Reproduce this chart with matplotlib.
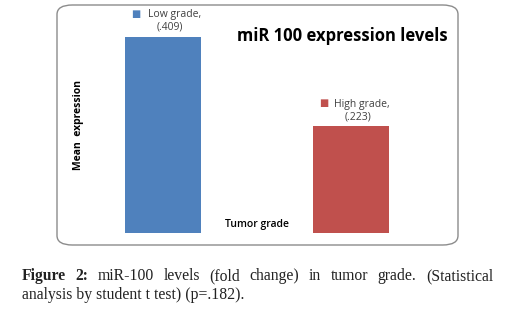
import matplotlib
matplotlib.use("Agg")
import matplotlib.pyplot as plt
from matplotlib.patches import FancyBboxPatch

# data
groups = ["Low grade,", "High grade,"]
values = [0.409, 0.223]
value_labels = ["(.409)", "(.223)"]
colors = ["#4f81bd", "#c0504d"]

W, H = 511, 315
fig = plt.figure(figsize=(W / 100, H / 100), dpi=100)
plt.rcParams['font.family'] = ['Open Sans', 'DejaVu Sans']

# rounded frame around the chart area
frame = FancyBboxPatch((57 / W, 1 - 245 / H), (458 - 57) / W, (245 - 5) / H,
                       boxstyle="round,pad=0,rounding_size=0.03",
                       transform=fig.transFigure, fc="white", ec="#8c8c8c", lw=1.0,
                       zorder=-1)
fig.patches.append(frame)

ax = fig.add_axes([57 / W, 1 - 233 / H, (458 - 57) / W, (233 - 5) / H])
ax.set_facecolor("none")
ax.set_ylim(0, 228 / 479)
ax.set_xlim(-0.564, 1.569)
x = [0, 1]
ax.bar(x, values, width=0.404, color=colors)
for s in ax.spines.values():
    s.set_visible(False)
ax.set_xticks([])
ax.set_yticks([])

for xi, v, g, vl, c in zip(x, values, groups, value_labels, colors):
    ax.annotate(vl, (xi, v), xytext=(5, 3), textcoords="offset points",
                ha="center", va="bottom", fontsize=7.5, color="#404040")
    ax.annotate(g, (xi, v), xytext=(8, 12), textcoords="offset points",
                ha="center", va="bottom", fontsize=7.5, color="#404040")
    ax.annotate("\u25a0", (xi, v), xytext=(-20, 12.5), textcoords="offset points",
                ha="center", va="bottom", fontsize=7, color=c)

fig.text(342 / W, 1 - 36 / H, "miR 100 expression levels", ha="center", va="center",
         fontsize=12, fontweight="bold", color="black")
fig.text(78 / W, 1 - 125 / H, "Mean  expression", rotation=90, ha="center", va="center",
         fontsize=7.5, fontweight="bold", color="black")
fig.text(257 / W, 1 - 224 / H, "Tumor grade", ha="center", va="center",
         fontsize=7.5, fontweight="semibold", color="black")

# caption, first line justified
serif = ['Liberation Serif', 'DejaVu Serif']
line1 = [("Figure", True), ("2:", True), ("miR-100", False), ("levels", False),
         ("(fold", False), ("change)", False), ("in", False), ("tumor", False),
         ("grade.", False), ("(Statistical", False)]
left, right = 22 / W, 493 / W
y1 = 1 - 280 / H
fig.canvas.draw()
r = fig.canvas.get_renderer()
texts = []
for w, b in line1:
    t = fig.text(0, y1, w, fontsize=11.3, family=serif, va="baseline",
                 fontweight="bold" if b else "normal", color="#222222")
    texts.append(t)
widths = [t.get_window_extent(r).width / W for t in texts]
gap = (right - left - sum(widths)) / (len(texts) - 1)
pos = left
for t, wd in zip(texts, widths):
    t.set_x(pos)
    pos += wd + gap
fig.text(left, 1 - 299 / H, "analysis by student t test) (p=.182).", fontsize=11.3,
         family=serif, va="baseline", color="#222222")

fig.savefig("out.png", dpi=100)
